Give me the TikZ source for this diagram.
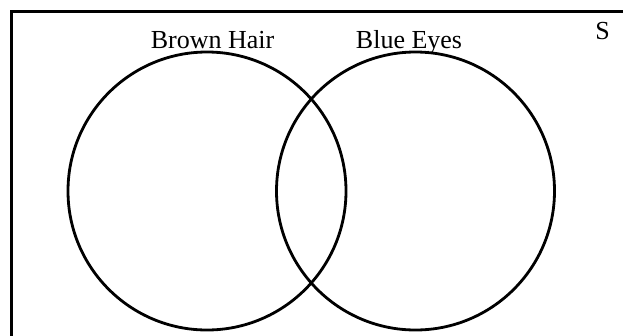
\documentclass[tikz,border=0pt]{standalone}
\usepackage{fontspec}
\setmainfont{Liberation Serif}
\usetikzlibrary{positioning}

\begin{document}
\begin{tikzpicture}[x=1pt,y=-1pt,line width=2.8pt,
    setname/.style={font=\fontsize{26}{30}\selectfont,anchor=base,inner sep=0pt}]
  \useasboundingbox (0,0) rectangle (623,335);
  % Universe rectangle (runs off the page on the right and below)
  \begin{scope}
    \clip (0,0) rectangle (623,335);
    \draw[line width=3.3pt] (11.7,11.7) rectangle (650,360);
  \end{scope}
  % Sets
  \draw (207,191) circle (139pt);
  \draw (415.5,191) circle (139pt);
  \node[setname] (brown) at (212.5,48.5) {Brown Hair};
  \node[setname] (blue) at (409,48.5) {Blue Eyes};
  \node[setname] (univ) at (602.5,39) {S};
\end{tikzpicture}
\end{document}
